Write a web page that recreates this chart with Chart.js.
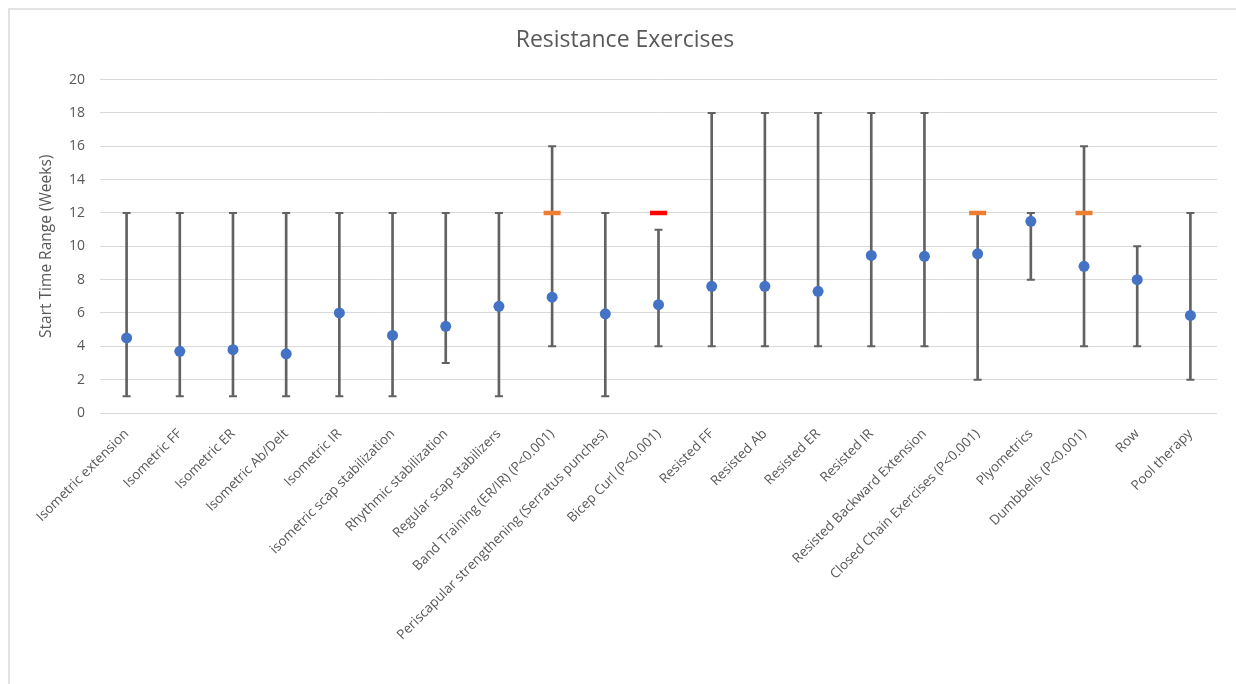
<!DOCTYPE html>
<html>
<head>
<meta charset="utf-8">
<title>Resistance Exercises</title>
<script src="https://cdn.jsdelivr.net/npm/chart.js@4/dist/chart.umd.min.js"></script>
<style>
  html, body { margin: 0; padding: 0; background: #fff; }
  .wrap { position: relative; width: 1236px; height: 684px; }
  .frame { position: absolute; left: 8px; top: 8px; right: 0; bottom: 0; border-left: 2px solid #e3e3e3; border-top: 2px solid #e3e3e3; }
  canvas { position: absolute; left: 0; top: 0; }
</style>
</head>
<body>
<div class="wrap">
  <div class="frame"></div>
  <canvas id="chart" width="1236" height="684"></canvas>
</div>
<script>
const categories = [
  'Isometric extension',
  'Isometric FF',
  'Isometric ER',
  'Isometric Ab/Delt',
  'Isometric IR',
  'isometric scap stabilization',
  'Rhythmic stabilization',
  'Regular scap stabilizers',
  'Band Training (ER/IR) (P<0.001)',
  'Periscapular strengthening (Serratus punches)',
  'Bicep Curl (P<0.001)',
  'Resisted FF',
  'Resisted Ab',
  'Resisted ER',
  'Resisted IR',
  'Resisted Backward Extension',
  'Closed Chain Exercises (P<0.001)',
  'Plyometrics',
  'Dumbbells (P<0.001)',
  'Row',
  'Pool therapy'
];

// mean start time (weeks) and reported range
const meanWeeks = [4.5, 3.7, 3.8, 3.55, 6.0, 4.65, 5.2, 6.4, 6.95, 5.95, 6.5, 7.6, 7.6, 7.3, 9.45, 9.4, 9.55, 11.5, 8.8, 8.0, 5.85];
const rangeLow  = [1, 1, 1, 1, 1, 1, 3, 1, 4, 1, 4, 4, 4, 4, 4, 4, 2, 8, 4, 4, 2];
const rangeHigh = [12, 12, 12, 12, 12, 12, 12, 12, 16, 12, 11, 18, 18, 18, 18, 18, 12, 12, 16, 10, 12];

// significance markers (week 12)
const sigOrange = [null, null, null, null, null, null, null, null, 12, null, null, null, null, null, null, null, 12, null, 12, null, null];
const sigRed    = [null, null, null, null, null, null, null, null, null, null, 12, null, null, null, null, null, null, null, null, null, null];

const yMin = 0;
const yMax = 20;
const yStep = 2;

const grey = '#626262';
const textGrey = '#595959';
Chart.defaults.font.family = '"Open Sans", sans-serif';
Chart.defaults.color = textGrey;

const capSet = (data) => ({
  type: 'line',
  data: data,
  showLine: false,
  pointStyle: 'line',
  pointRadius: 4,
  pointHoverRadius: 4,
  pointBorderWidth: 2,
  borderColor: grey,
  backgroundColor: grey,
  order: 2,
});

const markSet = (data, color) => ({
  type: 'line',
  data: data,
  showLine: false,
  pointStyle: 'line',
  pointRadius: 8.5,
  pointHoverRadius: 8.5,
  pointBorderWidth: 4.5,
  borderColor: color,
  backgroundColor: color,
  order: 1,
});

const ctx = document.getElementById('chart').getContext('2d');
new Chart(ctx, {
  type: 'bar',
  data: {
    labels: categories,
    datasets: [
      {
        label: 'Mean',
        type: 'line',
        data: meanWeeks,
        showLine: false,
        pointStyle: 'circle',
        pointRadius: 5.5,
        pointHoverRadius: 5.5,
        pointBorderWidth: 0,
        backgroundColor: '#4472C4',
        borderColor: '#4472C4',
        order: 0,
      },
      markSet(sigOrange, '#ED7D31'),
      markSet(sigRed, '#FF0000'),
      capSet(rangeLow),
      capSet(rangeHigh),
      {
        label: 'Range',
        data: categories.map((c, i) => [rangeLow[i], rangeHigh[i]]),
        backgroundColor: grey,
        borderWidth: 0,
        barThickness: 2,
        order: 3,
      },
    ],
  },
  options: {
    responsive: false,
    animation: false,
    layout: { padding: { left: 33, right: 19, top: 0, bottom: 0 } },
    plugins: {
      legend: { display: false },
      tooltip: { enabled: false },
      title: {
        display: true,
        text: 'Resistance Exercises',
        color: textGrey,
        font: { size: 23, weight: 'normal' },
        padding: { top: 27, bottom: 25 },
      },
    },
    scales: {
      y: {
        min: yMin,
        max: yMax,
        ticks: { stepSize: yStep, padding: 15, font: { size: 14 }, color: textGrey },
        grid: { color: '#d9d9d9', drawTicks: false },
        border: { display: false },
        title: {
          display: true,
          text: 'Start Time Range (Weeks)',
          color: textGrey,
          font: { size: 15.5 },
        },
        afterFit: (scale) => { scale.width = 67; },
      },
      x: {
        grid: { display: false },
        border: { display: false },
        ticks: {
          autoSkip: false,
          minRotation: 45,
          maxRotation: 45,
          font: { size: 13.5 },
          color: textGrey,
          padding: 5,
        },
        afterFit: (scale) => { scale.height = 271; },
      },
    },
  },
});
</script>
</body>
</html>
